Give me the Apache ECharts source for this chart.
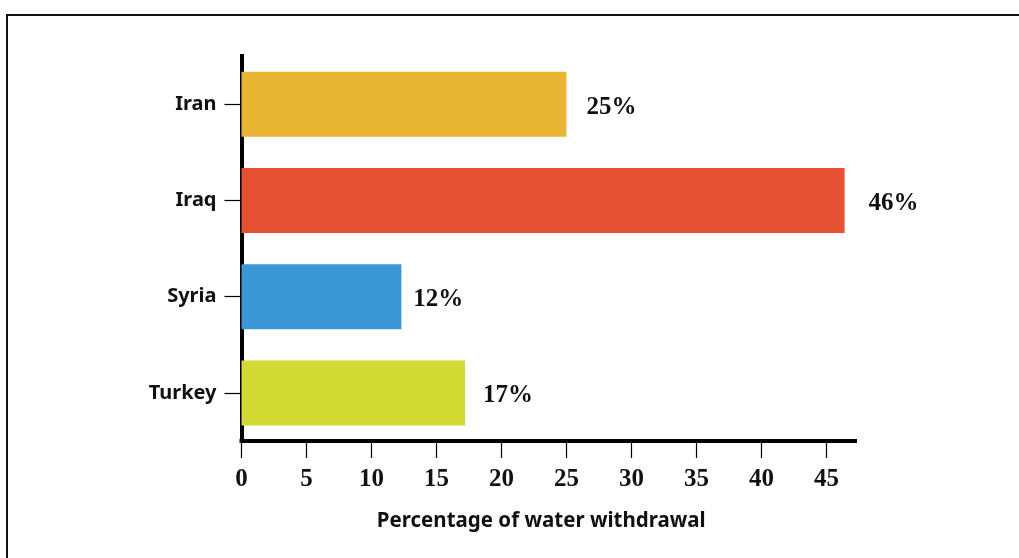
<!DOCTYPE html>
<html>
<head>
<meta charset="utf-8">
<style>
  html, body { margin: 0; padding: 0; background: #ffffff; }
  #chart { width: 1019px; height: 558px; }
</style>
<script src="https://cdn.jsdelivr.net/npm/echarts@6/dist/echarts.min.js"></script>
</head>
<body>
<div id="chart"></div>
<script>
// ---- data ----
const categories = ['Iran', 'Iraq', 'Syria', 'Turkey'];
const values = [25.0, 46.4, 12.3, 17.2];
const valueLabels = ['25%', '46%', '12%', '17%'];
const xTickValues = [0, 5, 10, 15, 20, 25, 30, 35, 40, 45];
const axisTitle = 'Percentage of water withdrawal';

// ---- styles ----
const barColors = ['#E8B534', '#E65131', '#3A96D4', '#D2DA33'];
const labelGaps = [20, 24, 12, 18];
const sansFont = '"Noto Sans", "Open Sans", sans-serif';
const serifFont = '"Liberation Serif", "DejaVu Serif", serif';

const chart = echarts.init(document.getElementById('chart'), null, { renderer: 'canvas' });

const seriesData = values.map((v, i) => ({
  value: v,
  itemStyle: { color: barColors[i] },
  label: { distance: labelGaps[i], formatter: valueLabels[i] }
}));

chart.setOption({
  animation: false,
  backgroundColor: '#ffffff',
  graphic: [{
    type: 'rect',
    shape: { x: 7, y: 15, width: 1040, height: 600 },
    style: { fill: 'none', stroke: '#111111', lineWidth: 2 },
    silent: true
  }],
  grid: { left: 241.5, top: 56, bottom: 117, right: 164, containLabel: false },
  xAxis: {
    type: 'value',
    min: 0,
    max: 47.2,
    interval: 5,
    splitLine: { show: false },
    axisLine: { show: true, lineStyle: { color: '#000', width: 4, cap: 'square' } },
    axisTick: { show: true, length: 17, customValues: xTickValues, lineStyle: { color: '#000', width: 1.2 } },
    axisLabel: {
      customValues: xTickValues,
      margin: 26,
      color: '#111',
      fontFamily: serifFont,
      fontWeight: 'bold',
      fontSize: 25
    },
    name: axisTitle,
    nameLocation: 'middle',
    nameGap: 70,
    nameTextStyle: {
      color: '#111',
      fontFamily: sansFont,
      fontWeight: 'bold',
      fontSize: 20.5,
      padding: [0, 14, 0, 0]
    }
  },
  yAxis: {
    type: 'category',
    data: categories,
    inverse: true,
    axisLine: { show: true, lineStyle: { color: '#000', width: 4, cap: 'square' } },
    axisTick: { show: true, alignWithLabel: true, length: 17, lineStyle: { color: '#000', width: 1.2 } },
    axisLabel: {
      margin: 25,
      color: '#111',
      fontFamily: sansFont,
      fontWeight: 'bold',
      fontSize: 20
    },
    splitLine: { show: false }
  },
  series: [{
    type: 'bar',
    data: seriesData,
    barWidth: 65,
    label: {
      show: true,
      position: 'right',
      offset: [0, 3],
      color: '#111',
      fontFamily: serifFont,
      fontWeight: 'bold',
      fontSize: 25
    }
  }]
});
</script>
</body>
</html>
